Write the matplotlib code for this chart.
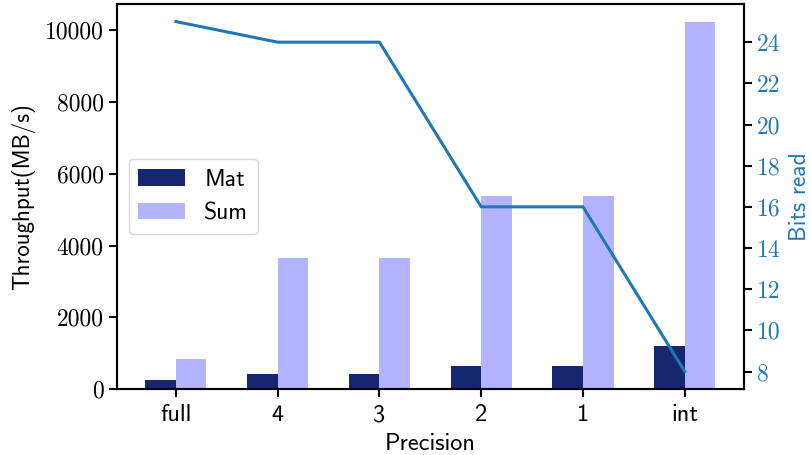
import matplotlib
matplotlib.use("Agg")
import matplotlib.pyplot as plt
import numpy as np

precision = ["full", "4", "3", "2", "1", "int"]
mat_tp = [250, 425, 425, 645, 645, 1210]
sum_tp = [850, 3650, 3650, 5390, 5390, 10220]
bits_read = [25, 24, 24, 16, 16, 8]

plt.rcParams["axes.unicode_minus"] = False
plt.rcParams["axes.linewidth"] = 1.5

fig, ax = plt.subplots(figsize=(8.12, 4.55), dpi=100)
fig.subplots_adjust(left=0.144, right=0.916, top=0.991, bottom=0.145)

x = np.arange(len(precision))
w = 0.3
ax.bar(x - w / 2, mat_tp, w, color="#172671", label="Mat")
ax.bar(x + w / 2, sum_tp, w, color="#b3b3ff", label="Sum")
ax.set_xticks(x)
ax.set_xticklabels(precision, fontfamily="cmss10", fontsize=17.5)
ax.set_xlabel("Precision", fontfamily="cmss10", fontsize=17.5, labelpad=5)
ax.set_ylabel("Throughput(MB/s)", fontfamily="cmss10", fontsize=16.5, labelpad=7)
ax.set_yticks([0, 2000, 4000, 6000, 8000, 10000])
for lab in ax.get_yticklabels():
    lab.set_fontfamily("cmr10")
    lab.set_fontsize(17)
ax.tick_params(length=6, width=1.5)
ax.tick_params(axis="x", pad=5)
leg = ax.legend(loc="center left", prop={"family": "cmss10", "size": 17})

ax2 = ax.twinx()
ax2.plot(x, bits_read, color="#1f77b4", lw=2.2)
ax2.set_yticks(np.arange(8, 26, 2))
for lab in ax2.get_yticklabels():
    lab.set_fontfamily("cmr10")
    lab.set_fontsize(17)
    lab.set_color("#1f77b4")
ax2.tick_params(length=6, width=1.5)
ax2.set_ylabel("Bits read", fontfamily="cmss10", fontsize=17, color="#1f77b4",
               labelpad=6)

plt.savefig("out.png", dpi=100)
